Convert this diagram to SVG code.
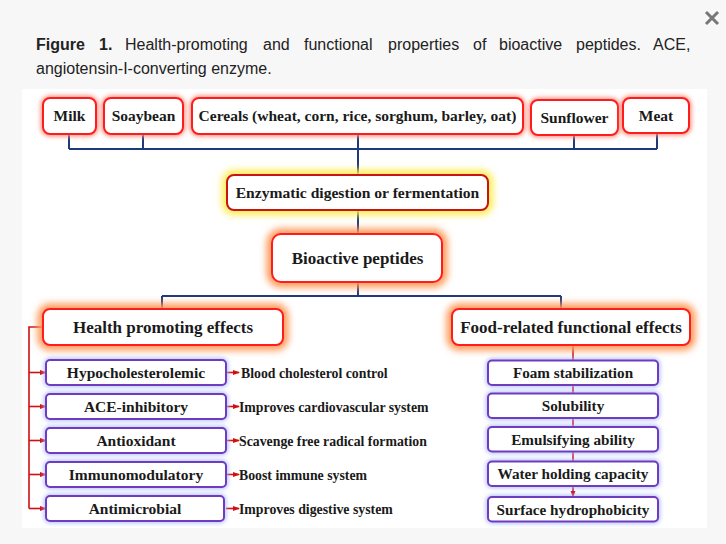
<svg xmlns="http://www.w3.org/2000/svg" width="726" height="544" viewBox="0 0 726 544">
<defs>
<filter id="b2" filterUnits="userSpaceOnUse" x="0" y="0" width="726" height="544"><feGaussianBlur stdDeviation="2"/></filter>
<filter id="b4" filterUnits="userSpaceOnUse" x="0" y="0" width="726" height="544"><feGaussianBlur stdDeviation="3.5"/></filter>
<marker id="arr" markerWidth="7" markerHeight="6" refX="6" refY="3" orient="auto" markerUnits="userSpaceOnUse"><path d="M0,0.6 L7,3 L0,5.4 z" fill="#d01010"/></marker>
<style>
.cap{font-family:"Liberation Sans",Arial,sans-serif;font-size:16px;fill:#222}
.lbl{font-family:"Liberation Serif","Times New Roman",serif;font-weight:bold;fill:#1a1a1a;text-anchor:middle}
.side{font-family:"Liberation Serif","Times New Roman",serif;font-weight:bold;fill:#1a1a1a;font-size:13.8px}
.gR{fill:none;stroke:#ff9080;stroke-width:5;filter:url(#b2)}
.gO{fill:none;stroke:#ff9a5a;stroke-width:11;filter:url(#b4)}
.gY{fill:none;stroke:#ffec50;stroke-width:10;filter:url(#b4)}
.gB{fill:none;stroke:#aab8ff;stroke-width:4;filter:url(#b2)}
.bR{fill:#fff;stroke:#ff1c1c;stroke-width:2}
.bD{fill:#fff;stroke:#c81414;stroke-width:2}
.bP{fill:#fff;stroke:#6f3cc0;stroke-width:2}
.nav{fill:none;stroke:#1f3a7a;stroke-width:2}
.red{fill:none;stroke:#d01010;stroke-width:1.6}
</style>
</defs>
<rect width="726" height="544" fill="#f7f7f7"/>
<path d="M706,12 L718,24 M718,12 L706,24" stroke="#777" stroke-width="3" fill="none"/>
<text class="cap"><tspan x="36" y="50" font-weight="bold">Figure</tspan><tspan x="99" y="50" font-weight="bold">1.</tspan><tspan x="125" y="50">Health-promoting</tspan><tspan x="263" y="50">and</tspan><tspan x="304" y="50">functional</tspan><tspan x="388" y="50">properties</tspan><tspan x="473" y="50">of</tspan><tspan x="499" y="50">bioactive</tspan><tspan x="576" y="50">peptides.</tspan><tspan x="653" y="50">ACE,</tspan></text>
<text class="cap" x="36" y="74">angiotensin-I-converting enzyme.</text>
<rect x="22" y="89" width="685" height="439" fill="#fff"/>

<g id="connectors">
<path class="nav" d="M69,134 V149 M143,134 V149 M358,134 V175 M574,135 V149 M657,133 V149 M69,149 H657"/>
<path class="nav" d="M358,210 V234 M358,282 V296 M162,296 H561 M162,296 V309 M561,296 V309"/>
<path class="red" d="M43,327 H29 V508.5"/>
<path class="red" marker-end="url(#arr)" d="M29,372.5 H46"/>
<path class="red" marker-end="url(#arr)" d="M29,406.5 H46"/>
<path class="red" marker-end="url(#arr)" d="M29,440.5 H46"/>
<path class="red" marker-end="url(#arr)" d="M29,474.5 H46"/>
<path class="red" marker-end="url(#arr)" d="M29,508.5 H46"/>
<path class="red" marker-end="url(#arr)" d="M226,372.5 H239"/>
<path class="red" marker-end="url(#arr)" d="M226,406.5 H239"/>
<path class="red" marker-end="url(#arr)" d="M226,440.5 H239"/>
<path class="red" marker-end="url(#arr)" d="M226,474.5 H239"/>
<path class="red" marker-end="url(#arr)" d="M226,508.5 H239"/>
<path class="red" marker-end="url(#arr)" d="M573,345 V497"/>
</g>

<g id="milk"><rect class="gR" x="43" y="98" width="53" height="36" rx="7"/><rect class="bR" x="43" y="98" width="53" height="36" rx="7"/><text class="lbl" x="69.5" y="121" font-size="15.5">Milk</text></g>
<g id="soaybean"><rect class="gR" x="104" y="98" width="79" height="36" rx="7"/><rect class="bR" x="104" y="98" width="79" height="36" rx="7"/><text class="lbl" x="143.5" y="121" font-size="15.5">Soaybean</text></g>
<g id="cereals"><rect class="gR" x="192" y="98" width="331" height="36" rx="7"/><rect class="bR" x="192" y="98" width="331" height="36" rx="7"/><text class="lbl" x="357.5" y="121" font-size="15.5">Cereals (wheat, corn, rice, sorghum, barley, oat)</text></g>
<g id="sunflower"><rect class="gR" x="531" y="100" width="87" height="35" rx="7"/><rect class="bR" x="531" y="100" width="87" height="35" rx="7"/><text class="lbl" x="574.5" y="122.5" font-size="15.5">Sunflower</text></g>
<g id="meat"><rect class="gR" x="623" y="98" width="66" height="35" rx="7"/><rect class="bR" x="623" y="98" width="66" height="35" rx="7"/><text class="lbl" x="656" y="121" font-size="15.5">Meat</text></g>

<g id="enzymatic"><rect class="gY" x="227" y="175" width="261" height="35" rx="7"/><rect class="bD" x="227" y="175" width="261" height="35" rx="7"/><text class="lbl" x="357.5" y="198" font-size="15.6">Enzymatic digestion or fermentation</text></g>
<g id="bioactive"><rect class="gO" x="272" y="234" width="170" height="48" rx="9"/><rect class="bR" x="272" y="234" width="170" height="48" rx="9"/><text class="lbl" x="357.5" y="264" font-size="17">Bioactive peptides</text></g>
<g id="health"><rect class="gO" x="43" y="309" width="240" height="36" rx="7"/><rect class="bR" x="43" y="309" width="240" height="36" rx="7"/><text class="lbl" x="163" y="333" font-size="17">Health promoting effects</text></g>
<g id="food"><rect class="gO" x="452" y="309" width="238" height="36" rx="7"/><rect class="bR" x="452" y="309" width="238" height="36" rx="7"/><text class="lbl" x="571" y="333" font-size="17">Food-related functional effects</text></g>

<g id="hypo"><rect class="gB" x="46" y="360" width="180" height="25" rx="4"/><rect class="bP" x="46" y="360" width="180" height="25" rx="4"/><text class="lbl" x="136" y="378" font-size="15.5">Hypocholesterolemic</text></g>
<g id="ace"><rect class="gB" x="46" y="394" width="180" height="25" rx="4"/><rect class="bP" x="46" y="394" width="180" height="25" rx="4"/><text class="lbl" x="136" y="412" font-size="15.5">ACE-inhibitory</text></g>
<g id="antiox"><rect class="gB" x="46" y="428" width="180" height="25" rx="4"/><rect class="bP" x="46" y="428" width="180" height="25" rx="4"/><text class="lbl" x="136" y="446" font-size="15.5">Antioxidant</text></g>
<g id="immuno"><rect class="gB" x="46" y="462" width="180" height="25" rx="4"/><rect class="bP" x="46" y="462" width="180" height="25" rx="4"/><text class="lbl" x="136" y="480" font-size="15.5">Immunomodulatory</text></g>
<g id="antimic"><rect class="gB" x="46" y="496" width="178" height="25" rx="4"/><rect class="bP" x="46" y="496" width="178" height="25" rx="4"/><text class="lbl" x="135" y="514" font-size="15.5">Antimicrobial</text></g>

<g id="effects">
<text class="side" x="241" y="377.5">Blood cholesterol control</text>
<text class="side" x="239" y="411.5">Improves cardiovascular system</text>
<text class="side" x="239" y="445.5">Scavenge free radical formation</text>
<text class="side" x="239" y="479.5">Boost immune system</text>
<text class="side" x="239" y="513.5">Improves digestive system</text>
</g>

<g id="foam"><rect class="gB" x="488" y="360.5" width="170" height="24.5" rx="4"/><rect class="bP" x="488" y="360.5" width="170" height="24.5" rx="4"/><text class="lbl" x="573" y="378" font-size="15.2">Foam stabilization</text></g>
<g id="solubility"><rect class="gB" x="488" y="393.5" width="170" height="24.5" rx="4"/><rect class="bP" x="488" y="393.5" width="170" height="24.5" rx="4"/><text class="lbl" x="573" y="411" font-size="15.2">Solubility</text></g>
<g id="emulsifying"><rect class="gB" x="488" y="427" width="170" height="24.5" rx="4"/><rect class="bP" x="488" y="427" width="170" height="24.5" rx="4"/><text class="lbl" x="573" y="444.5" font-size="15.2">Emulsifying ability</text></g>
<g id="water"><rect class="gB" x="488" y="461.5" width="170" height="24.5" rx="4"/><rect class="bP" x="488" y="461.5" width="170" height="24.5" rx="4"/><text class="lbl" x="573" y="479" font-size="15.2">Water holding capacity</text></g>
<g id="surface"><rect class="gB" x="488" y="497" width="170" height="24.5" rx="4"/><rect class="bP" x="488" y="497" width="170" height="24.5" rx="4"/><text class="lbl" x="573" y="514.5" font-size="15.2">Surface hydrophobicity</text></g>
</svg>
